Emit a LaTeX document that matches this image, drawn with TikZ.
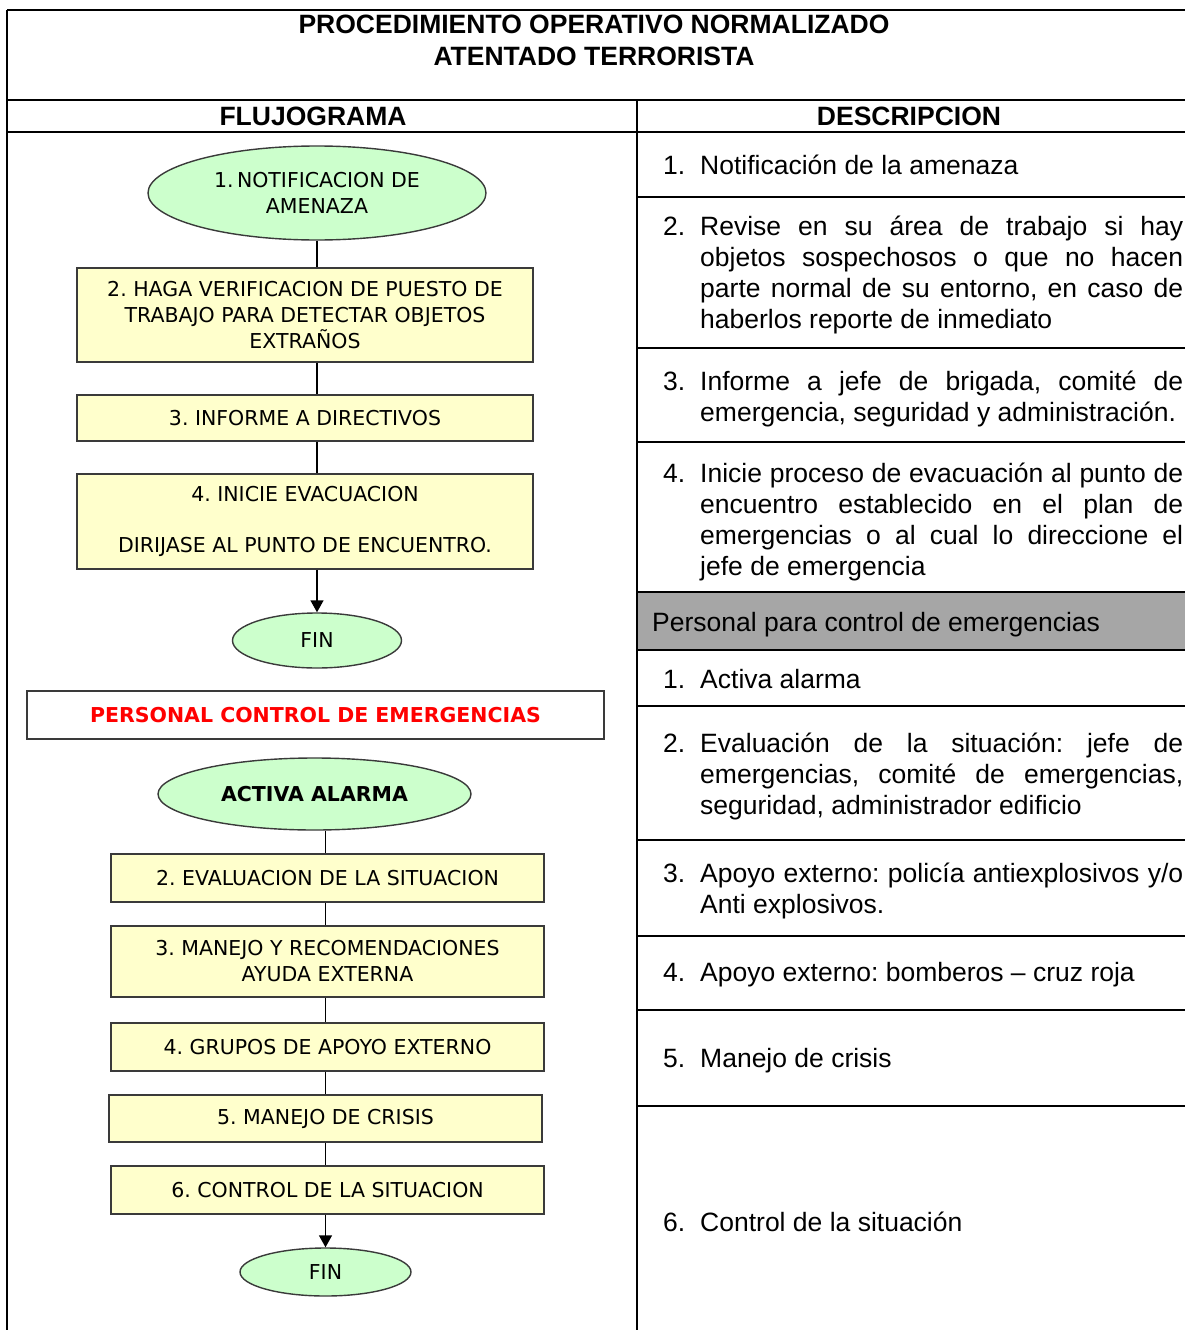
\documentclass[tikz,border=0pt]{standalone}
\usepackage{fontspec}
\setmainfont{Liberation Sans}
\newfontfamily\flowfont{DejaVu Sans}
\usetikzlibrary{shapes.geometric,arrows.meta}
\frenchspacing
\definecolor{elgreen}{HTML}{CCFFCC}
\definecolor{bxyellow}{HTML}{FFFFCC}
\definecolor{bxborder}{HTML}{3A3A3A}
\definecolor{rowgray}{HTML}{A6A6A6}
\definecolor{pcred}{HTML}{FF0000}
\newlength{\dw}
\setlength{\dw}{483pt}
\newcommand{\jline}[1]{\makebox[\dw][s]{#1}}
\newcommand{\dpar}[1]{\parbox[t]{\dw}{\fontsize{26.5}{31}\selectfont #1}}
\begin{document}
\begin{tikzpicture}[x=1pt,y=-1pt,
  tbl/.style={line width=2pt,black},
  fl/.style={font=\flowfont\fontsize{20.5}{26}\selectfont,align=center,inner sep=0pt},
  oval/.style={fl,ellipse,draw=bxborder,fill=elgreen,line width=1.4pt},
  stepbox/.style={fl,rectangle,draw=bxborder,fill=bxyellow,line width=1.4pt},
  conn/.style={line width=1.4pt,black},
  arr/.style={conn,-{Triangle[width=13pt,length=12pt]}},
  desc/.style={font=\fontsize{26.5}{31}\selectfont,inner sep=0pt,anchor=base west},
  hdr/.style={font=\bfseries\fontsize{26.5}{32}\selectfont,inner sep=0pt,anchor=base}
]
\useasboundingbox (0,0) rectangle (1185,1330);
% gray row
\fill[rowgray] (637,592) rectangle (1185,650);
% table lines
\draw[tbl] (7,10) -- (1185,10);
\draw[tbl] (7,10) -- (7,1330);
\draw[tbl] (7,100) -- (1185,100);
\draw[tbl] (7,132) -- (1185,132);
\draw[tbl] (637,100) -- (637,1330);
\foreach \yy in {197,348,442,592,650,706,840,936,1010,1106}
  \draw[tbl] (637,\yy) -- (1185,\yy);
% headers
\node[hdr] (t1) at (594,34) {PROCEDIMIENTO OPERATIVO NORMALIZADO};
\node[hdr] (t2) at (594,66) {ATENTADO TERRORISTA};
\node[hdr] (hf) at (313,125) {FLUJOGRAMA};
\node[hdr] (hd) at (909,125) {DESCRIPCION};
% flowchart part 1
\node[oval,minimum width=338pt,minimum height=94pt] (n1) at (317,193) {1.\,NOTIFICACION DE\\AMENAZA};
\node[stepbox,minimum width=456pt,minimum height=94pt] (b2) at (305,315) {2. HAGA VERIFICACION DE PUESTO DE\\TRABAJO PARA DETECTAR OBJETOS\\EXTRAÑOS};
\node[stepbox,minimum width=456pt,minimum height=46pt] (b3) at (305,418) {3. INFORME A DIRECTIVOS};
\node[stepbox,minimum width=456pt,minimum height=95pt] (b4) at (305,521.5) {4. INICIE EVACUACION\\[25pt]DIRIJASE AL PUNTO DE ENCUENTRO.};
\node[oval,minimum width=169pt,minimum height=55pt] (f1) at (317,640.5) {FIN};
\draw[conn] (n1.south) -- (n1.south |- b2.north);
\draw[conn] (b2.south -| n1.south) -- (b3.north -| n1.south);
\draw[conn] (b3.south -| n1.south) -- (b4.north -| n1.south);
\draw[arr] (b4.south -| f1.north) -- (f1.north);
% personal control
\node[fl,draw=bxborder,line width=1.4pt,minimum width=577pt,minimum height=48pt,text=pcred,font=\flowfont\bfseries\fontsize{20.5}{26}\selectfont] (pc) at (315.5,715) {PERSONAL CONTROL DE EMERGENCIAS};
% flowchart part 2
\node[oval,minimum width=313pt,minimum height=72pt,font=\flowfont\bfseries\fontsize{20.5}{26}\selectfont] (aa) at (314.5,794) {ACTIVA ALARMA};
\node[stepbox,minimum width=433pt,minimum height=48pt] (e2) at (327.5,878) {2. EVALUACION DE LA SITUACION};
\node[stepbox,minimum width=433pt,minimum height=71pt] (e3) at (327.5,961.5) {3. MANEJO Y RECOMENDACIONES\\AYUDA EXTERNA};
\node[stepbox,minimum width=433pt,minimum height=48pt] (e4) at (327.5,1047) {4. GRUPOS DE APOYO EXTERNO};
\node[stepbox,minimum width=433pt,minimum height=47pt] (e5) at (325.5,1118.5) {5. MANEJO DE CRISIS};
\node[stepbox,minimum width=433pt,minimum height=48pt] (e6) at (327.5,1190) {6. CONTROL DE LA SITUACION};
\node[oval,minimum width=171pt,minimum height=48pt] (f2) at (325.5,1272) {FIN};
\draw[conn] (aa.south -| f2.north) -- (e2.north -| f2.north);
\draw[conn] (e2.south -| f2.north) -- (e3.north -| f2.north);
\draw[conn] (e3.south -| f2.north) -- (e4.north -| f2.north);
\draw[conn] (e4.south -| f2.north) -- (e5.north -| f2.north);
\draw[conn] (e5.south -| f2.north) -- (e6.north -| f2.north);
\draw[arr] (e6.south -| f2.north) -- (f2.north);
% description column
\node[desc] (d1n) at (663,174) {1.};
\node[desc] (d1) at (700,174) {Notificación de la amenaza};
\node[desc] (d2n) at (663,235) {2.};
\node[desc] (d2) at (700,235) {\dpar{\jline{Revise en su área de trabajo si hay}\\\jline{objetos sospechosos o que no hacen}\\\jline{parte normal de su entorno, en caso de}\\haberlos reporte de inmediato}};
\node[desc] (d3n) at (663,390) {3.};
\node[desc] (d3) at (700,390) {\dpar{\jline{Informe a jefe de brigada, comité de}\\emergencia, seguridad y administración.}};
\node[desc] (d4n) at (663,482) {4.};
\node[desc] (d4) at (700,482) {\dpar{\jline{Inicie proceso de evacuación al punto de}\\\jline{encuentro establecido en el plan de}\\\jline{emergencias o al cual lo direccione el}\\jefe de emergencia}};
\node[desc] (dg) at (652,631) {Personal para control de emergencias};
\node[desc] (p1n) at (663,688) {1.};
\node[desc] (p1) at (700,688) {Activa alarma};
\node[desc] (p2n) at (663,752) {2.};
\node[desc] (p2) at (700,752) {\dpar{\jline{Evaluación de la situación: jefe de}\\\jline{emergencias, comité de emergencias,}\\seguridad, administrador edificio}};
\node[desc] (p3n) at (663,882) {3.};
\node[desc] (p3) at (700,882) {\dpar{\jline{Apoyo externo: policía antiexplosivos y/o}\\Anti explosivos.}};
\node[desc] (p4n) at (663,981) {4.};
\node[desc] (p4) at (700,981) {Apoyo externo: bomberos – cruz roja};
\node[desc] (p5n) at (663,1067) {5.};
\node[desc] (p5) at (700,1067) {Manejo de crisis};
\node[desc] (p6n) at (663,1231) {6.};
\node[desc] (p6) at (700,1231) {Control de la situación};
\end{tikzpicture}
\end{document}
